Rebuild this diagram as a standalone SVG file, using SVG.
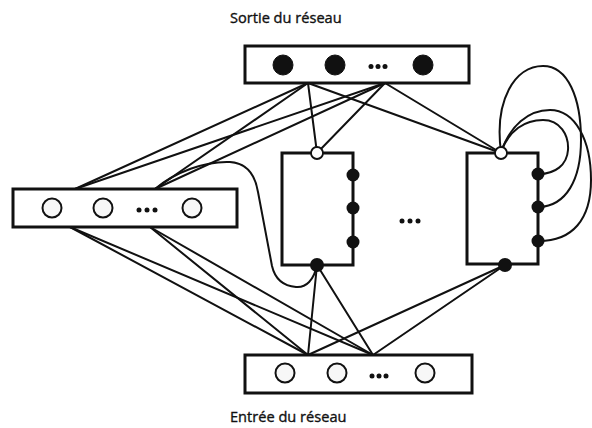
<svg xmlns="http://www.w3.org/2000/svg" width="592" height="428" viewBox="0 0 592 428">
  <style>
    .link { fill: none; stroke: #111; stroke-width: 2; stroke-linecap: round; }
    .box { fill: #fff; stroke: #111; stroke-width: 3; }
    .unit-open { fill: #f7f7f7; stroke: #111; stroke-width: 2; }
    .unit-full { fill: #111; stroke: #111; stroke-width: 1; }
    .port-open { fill: #fff; stroke: #111; stroke-width: 1.8; }
    .port-full { fill: #111; }
    .ellipsis { fill: #111; }
    .label { font-family: "Open Sans", "Noto Sans", sans-serif; font-size: 14.6px; fill: #111; stroke: #111; stroke-width: 0.35; }
  </style>

  <!-- connections between layers -->
  <g id="connectors">
    <!-- output layer to context layer -->
    <line class="link" x1="308" y1="83" x2="75" y2="189"/>
    <line class="link" x1="308" y1="83" x2="155" y2="189"/>
    <line class="link" x1="385" y1="83" x2="75" y2="189"/>
    <line class="link" x1="385" y1="83" x2="155" y2="189"/>
    <!-- output layer to hidden modules -->
    <line class="link" x1="308" y1="83" x2="317" y2="153"/>
    <line class="link" x1="308" y1="83" x2="501" y2="153"/>
    <line class="link" x1="385" y1="83" x2="317" y2="153"/>
    <line class="link" x1="385" y1="83" x2="501" y2="153"/>
    <!-- context layer to input layer -->
    <line class="link" x1="70" y1="227" x2="308" y2="355"/>
    <line class="link" x1="70" y1="227" x2="373" y2="355"/>
    <line class="link" x1="150" y1="227" x2="308" y2="355"/>
    <line class="link" x1="150" y1="227" x2="373" y2="355"/>
    <!-- hidden modules to input layer -->
    <line class="link" x1="317" y1="265" x2="308" y2="355"/>
    <line class="link" x1="317" y1="265" x2="373" y2="355"/>
    <line class="link" x1="505" y1="265" x2="308" y2="355"/>
    <line class="link" x1="505" y1="265" x2="373" y2="355"/>
    <!-- feedback from first hidden module to context layer -->
    <path class="link" d="M317,265 C314,280 306,288 296,287 C284,286 275,279 272,266 L258,192 C255,174 246,163 230,162 C205,161 175,172 155,189"/>
    <!-- recurrent loops of second hidden module -->
    <path class="link" d="M501,152 C509,130 525,120 543,120 C560,120 569,135 568,150 C567,165 555,174 539,174"/>
    <path class="link" d="M501,152 C494,100 515,66 543,66 C568,66 581,98 581,140 C581,180 566,206 539,207"/>
    <path class="link" d="M501,152 C510,126 528,110 550,110 C575,110 591,140 591,180 C591,220 572,241 539,241"/>
  </g>

  <!-- output layer -->
  <g id="output-layer">
    <rect class="box" x="245" y="46" width="224" height="37"/>
    <circle class="unit-full" cx="283" cy="65" r="10"/>
    <circle class="unit-full" cx="335" cy="65" r="10"/>
    <circle class="ellipsis" cx="371" cy="66.5" r="2.5"/>
    <circle class="ellipsis" cx="378" cy="66.5" r="2.5"/>
    <circle class="ellipsis" cx="385" cy="66.5" r="2.5"/>
    <circle class="unit-full" cx="423" cy="65" r="10"/>
  </g>

  <!-- context layer -->
  <g id="context-layer">
    <rect class="box" x="13" y="189" width="224" height="38"/>
    <circle class="unit-open" cx="52" cy="208" r="9.5"/>
    <circle class="unit-open" cx="103" cy="208" r="9.5"/>
    <circle class="ellipsis" cx="139" cy="210" r="2.5"/>
    <circle class="ellipsis" cx="147" cy="210" r="2.5"/>
    <circle class="ellipsis" cx="155" cy="210" r="2.5"/>
    <circle class="unit-open" cx="192" cy="208" r="9.5"/>
  </g>

  <!-- first hidden module -->
  <g id="hidden-1">
    <rect class="box" x="282" y="153" width="71" height="112"/>
    <circle class="port-open" cx="317" cy="153" r="6"/>
    <circle class="port-full" cx="353" cy="175" r="6.5"/>
    <circle class="port-full" cx="353" cy="208" r="6.5"/>
    <circle class="port-full" cx="353" cy="242" r="6.5"/>
    <circle class="port-full" cx="317" cy="265" r="7"/>
  </g>

  <!-- ellipsis between hidden modules -->
  <g id="hidden-ellipsis">
    <circle class="ellipsis" cx="402" cy="221" r="2.5"/>
    <circle class="ellipsis" cx="410" cy="221" r="2.5"/>
    <circle class="ellipsis" cx="418" cy="221" r="2.5"/>
  </g>

  <!-- second hidden module -->
  <g id="hidden-2">
    <rect class="box" x="467" y="153" width="71" height="111"/>
    <circle class="port-open" cx="501" cy="153" r="6"/>
    <circle class="port-full" cx="538" cy="174" r="6.5"/>
    <circle class="port-full" cx="538" cy="207" r="6.5"/>
    <circle class="port-full" cx="538" cy="241" r="6.5"/>
    <circle class="port-full" cx="505" cy="265" r="7"/>
  </g>

  <!-- input layer -->
  <g id="input-layer">
    <rect class="box" x="245" y="355" width="227" height="38"/>
    <circle class="unit-open" cx="285" cy="373" r="9.5"/>
    <circle class="unit-open" cx="337" cy="373" r="9.5"/>
    <circle class="ellipsis" cx="372" cy="376" r="2.5"/>
    <circle class="ellipsis" cx="379" cy="376" r="2.5"/>
    <circle class="ellipsis" cx="386" cy="376" r="2.5"/>
    <circle class="unit-open" cx="425" cy="373" r="9.5"/>
  </g>

  <!-- captions -->
  <g id="labels">
    <text class="label" x="230" y="23">Sortie du réseau</text>
    <text class="label" x="230" y="422">Entrée du réseau</text>
  </g>
</svg>
